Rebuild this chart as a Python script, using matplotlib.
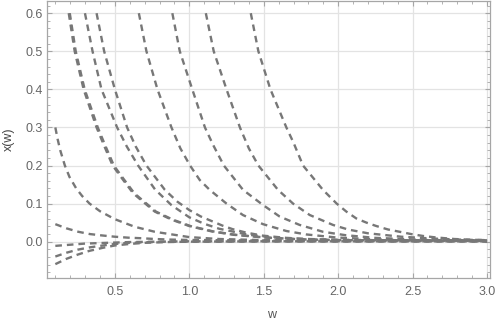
import matplotlib
matplotlib.use('Agg')
from matplotlib import pyplot as plt
from matplotlib.ticker import MultipleLocator, FormatStrFormatter

plt.rcParams['font.family'] = ['Liberation Sans', 'DejaVu Sans']

# curves (w, x(w)), clipped at 0.6 like the original
w_a = [0.1, 0.115, 0.133, 0.164, 0.195, 0.24, 0.28, 0.33, 0.4, 0.5, 0.634, 0.768, 1.0, 1.2, 1.5, 2.0, 3.0]
x_a = [0.3, 0.27, 0.24, 0.2, 0.17, 0.14, 0.12, 0.1, 0.08, 0.059, 0.039, 0.026, 0.012, 0.007, 0.004, 0.002, 0.002]

w_b = [0.1, 0.175, 0.254, 0.332, 0.41, 0.5, 0.59, 0.68, 0.77, 0.87, 1.0, 1.5, 2.0, 3.0]
x_b = [0.046, 0.035, 0.026, 0.02, 0.0165, 0.013, 0.0105, 0.009, 0.007, 0.0055, 0.0045, 0.003, 0.002, 0.002]

w_c = [0.1, 0.2, 0.3, 0.45, 0.6, 0.8, 1.0, 3.0]
x_c = [-0.011, -0.008, -0.005, -0.003, -0.001, 0.0, 0.001, 0.001]

w_d = [0.1, 0.175, 0.25, 0.33, 0.42, 0.5, 0.6, 0.75, 0.9, 1.5, 3.0]
x_d = [-0.039, -0.029, -0.021, -0.015, -0.01, -0.006, -0.003, -0.001, 0.0, 0.001, 0.001]

w_e = [0.1, 0.175, 0.25, 0.33, 0.42, 0.5, 0.6, 0.7, 0.85, 1.0, 1.5, 3.0]
x_e = [-0.059, -0.045, -0.034, -0.024, -0.016, -0.01, -0.006, -0.003, -0.001, 0.0, 0.001, 0.001]

w_f = [0.19, 0.23, 0.29, 0.377, 0.43, 0.485, 0.55, 0.623, 0.68, 0.768, 0.88, 1.0, 1.15, 1.3, 1.5, 1.75, 2.0, 2.5, 3.0]
x_f = [0.6, 0.5, 0.4, 0.3, 0.25, 0.2, 0.165, 0.127, 0.108, 0.079, 0.058, 0.041, 0.027, 0.018, 0.011, 0.006, 0.004, 0.003, 0.002]

w_f2 = [0.197, 0.237, 0.297, 0.385, 0.438, 0.493, 0.558, 0.631, 0.688, 0.776, 0.888, 1.008, 1.16, 1.31, 1.51, 1.76, 2.0, 2.5, 3.0]
x_f2 = [0.6, 0.5, 0.4, 0.3, 0.25, 0.2, 0.165, 0.127, 0.108, 0.079, 0.058, 0.041, 0.027, 0.018, 0.011, 0.006, 0.004, 0.003, 0.002]

w_g = [0.299, 0.35, 0.41, 0.515, 0.58, 0.656, 0.77, 0.88, 1.0, 1.1, 1.2, 1.4, 1.6, 1.8, 2.0, 2.5, 3.0]
x_g = [0.6, 0.5, 0.4, 0.3, 0.25, 0.2, 0.137, 0.096, 0.064, 0.047, 0.034, 0.018, 0.01, 0.006, 0.004, 0.003, 0.002]

w_h = [0.377, 0.428, 0.5, 0.582, 0.64, 0.712, 0.836, 0.92, 1.0, 1.078, 1.157, 1.224, 1.29, 1.38, 1.49, 1.65, 1.8, 2.0, 2.5, 3.0]
x_h = [0.6, 0.5, 0.4, 0.3, 0.25, 0.2, 0.136, 0.105, 0.083, 0.066, 0.053, 0.042, 0.033, 0.024, 0.016, 0.01, 0.007, 0.005, 0.003, 0.002]

w_i = [0.661, 0.712, 0.786, 0.88, 0.94, 1.005, 1.07, 1.137, 1.25, 1.36, 1.495, 1.652, 1.786, 1.987, 2.2, 2.5, 3.0]
x_i = [0.6, 0.5, 0.4, 0.3, 0.245, 0.2, 0.162, 0.136, 0.1, 0.07, 0.046, 0.028, 0.019, 0.011, 0.007, 0.004, 0.003]

w_j = [0.886, 0.936, 1.02, 1.105, 1.16, 1.232, 1.361, 1.496, 1.607, 1.741, 1.898, 2.05, 2.25, 2.5, 2.75, 3.0]
x_j = [0.6, 0.5, 0.4, 0.3, 0.254, 0.2, 0.136, 0.096, 0.066, 0.044, 0.026, 0.017, 0.01, 0.006, 0.004, 0.003]

w_k = [1.111, 1.164, 1.25, 1.34, 1.4, 1.464, 1.596, 1.697, 1.809, 1.965, 2.066, 2.2, 2.424, 2.648, 2.85, 3.0]
x_k = [0.6, 0.5, 0.4, 0.3, 0.245, 0.2, 0.136, 0.1, 0.07, 0.044, 0.032, 0.022, 0.013, 0.008, 0.005, 0.004]

w_l = [1.413, 1.464, 1.545, 1.652, 1.7, 1.764, 1.898, 1.99, 2.055, 2.122, 2.19, 2.257, 2.335, 2.413, 2.49, 2.57, 2.648, 2.78, 2.9, 3.0]
x_l = [0.6, 0.5, 0.4, 0.3, 0.26, 0.2, 0.136, 0.1, 0.079, 0.061, 0.05, 0.041, 0.032, 0.026, 0.02, 0.015, 0.0115, 0.007, 0.005, 0.004]

curves = [(w_a, x_a), (w_b, x_b), (w_c, x_c), (w_d, x_d), (w_e, x_e),
          (w_f, x_f), (w_f2, x_f2), (w_g, x_g), (w_h, x_h), (w_i, x_i),
          (w_j, x_j), (w_k, x_k), (w_l, x_l)]

line_col = '#777777'
frame_col = '#a6a6a6'
text_col = '#666666'

fig = plt.figure(figsize=(4.98, 3.25), dpi=100)
ax = fig.add_axes([46.7 / 498, 1 - 277.7 / 325, (490 - 46.7) / 498, (277.7 - 1) / 325])

for w, x in curves:
    ax.plot(w, x, color=line_col, lw=1.7, linestyle=(0, (2.8, 2.1)),
            dash_capstyle='butt', solid_joinstyle='round')

ax.set_xlim(0.042, 3.02)
ax.set_ylim(-0.0946, 0.632)

ax.xaxis.set_major_locator(MultipleLocator(0.5))
ax.xaxis.set_minor_locator(MultipleLocator(0.1))
ax.yaxis.set_major_locator(MultipleLocator(0.1))
ax.yaxis.set_minor_locator(MultipleLocator(0.02))
ax.xaxis.set_major_formatter(FormatStrFormatter('%.1f'))
ax.yaxis.set_major_formatter(FormatStrFormatter('%.1f'))

ax.grid(True, which='major', color='#e3e3e3', lw=0.9)
ax.set_axisbelow(True)

for s in ax.spines.values():
    s.set_color(frame_col)
    s.set_linewidth(0.9)

ax.tick_params(which='both', direction='in', top=True, right=True,
               color=frame_col, labelcolor=text_col, labelsize=9)
ax.tick_params(which='major', length=3.6, width=0.8)
ax.tick_params(which='minor', length=1.9, width=0.6)
ax.tick_params(axis='x', pad=6)
ax.tick_params(axis='y', pad=2.5)

fig.text(8.5 / 498, 1 - 139 / 325, 'x(w)', rotation=90, ha='center', va='center',
         fontsize=9, color='#444444')
fig.text(272 / 498, 1 - 315 / 325, 'w', ha='center', va='center',
         fontsize=9, color='#555555')

fig.savefig('out.png', dpi=100)
